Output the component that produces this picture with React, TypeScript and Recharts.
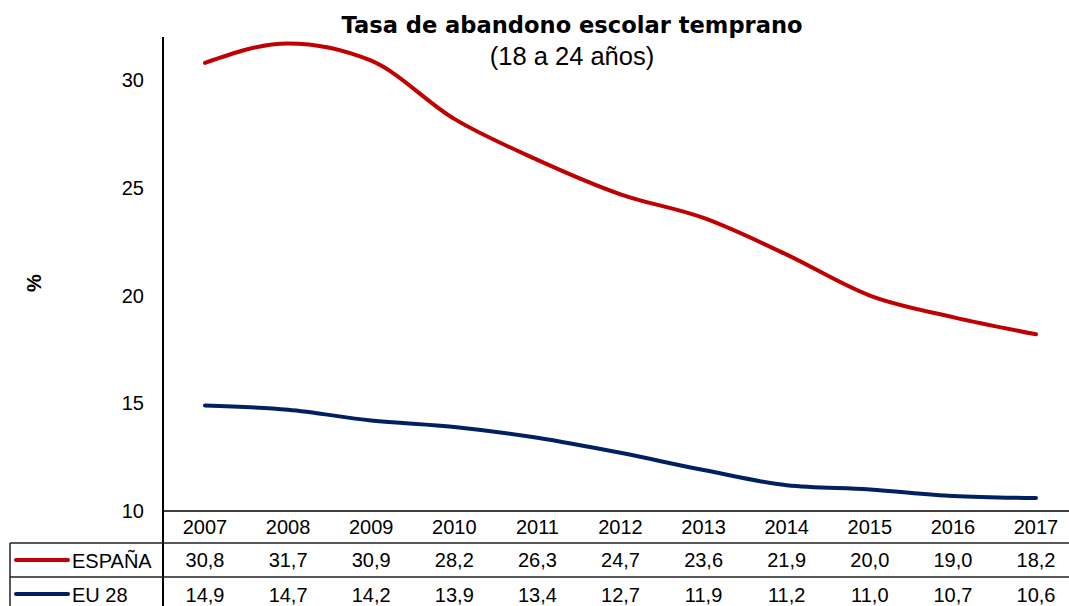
import React from 'react';
import { LineChart, Line, XAxis, YAxis } from 'recharts';

const years = ['2007', '2008', '2009', '2010', '2011', '2012', '2013', '2014', '2015', '2016', '2017'];
const espana = [30.8, 31.7, 30.9, 28.2, 26.3, 24.7, 23.6, 21.9, 20.0, 19.0, 18.2];
const eu28 = [14.9, 14.7, 14.2, 13.9, 13.4, 12.7, 11.9, 11.2, 11.0, 10.7, 10.6];
const yTicks = [10, 15, 20, 25, 30];
const seriesNames = ['ESPAÑA', 'EU 28'];
const title = 'Tasa de abandono escolar temprano';
const subtitle = '(18 a 24 años)';
const yLabel = '%';

const data = years.map((y, i) => ({ year: y, espana: espana[i], eu28: eu28[i] }));

const W = 1069;
const H = 606;
const TOP = 37;
const AXIS_H = 95;
const Y_W = 163;
const RED = '#C00000';
const BLUE = '#002060';
const FONT = '"Liberation Sans", Arial, sans-serif';

const fmt = (v: number) => v.toFixed(1).replace('.', ',');

const TableTick = (props: any) => {
  const { x, payload } = props;
  const i = years.indexOf(String(payload.value));
  return (
    <g fontFamily={FONT} fontSize={20} fill="#000">
      <text x={x} y={534} textAnchor="middle" fill="#000">{payload.value}</text>
      <text x={x} y={567} textAnchor="middle" fill="#000">{fmt(espana[i])}</text>
      <text x={x} y={602} textAnchor="middle" fill="#000">{fmt(eu28[i])}</text>
    </g>
  );
};

export default function App() {
  return (
    <div style={{ position: 'relative', width: W, height: H, background: '#fff' }}>
      <style>{`body{margin:0;overflow:hidden;background:#fff}`}</style>
      <LineChart width={W} height={H} data={data} margin={{ top: TOP, right: 0, bottom: 0, left: 0 }}>
        <XAxis
          dataKey="year"
          height={AXIS_H}
          padding={{ left: 42, right: 33 }}
          tickLine={false}
          axisLine={{ stroke: '#000', strokeWidth: 1.5 }}
          interval={0}
          tick={<TableTick />}
        />
        <YAxis
          width={Y_W}
          domain={[10, 32]}
          ticks={yTicks}
          allowDataOverflow
          tickLine={false}
          tickMargin={13}
          axisLine={{ stroke: '#000', strokeWidth: 2 }}
          tick={{ fill: '#000', fontSize: 20, fontFamily: FONT }}
        />
        <Line
          type="monotone"
          dataKey="espana"
          name={seriesNames[0]}
          stroke={RED}
          strokeWidth={4}
          strokeLinecap="round"
          dot={false}
          activeDot={false}
          isAnimationActive={false}
        />
        <Line
          type="monotone"
          dataKey="eu28"
          name={seriesNames[1]}
          stroke={BLUE}
          strokeWidth={4}
          strokeLinecap="round"
          dot={false}
          activeDot={false}
          isAnimationActive={false}
        />
      </LineChart>
      <svg
        width={W}
        height={H}
        style={{ position: 'absolute', left: 0, top: 0, pointerEvents: 'none' }}
      >
        <text x={572} y={33} textAnchor="middle" fontFamily='"DejaVu Sans", sans-serif' fontWeight="bold" fontSize={22.6} fill="#000">
          {title}
        </text>
        <text x={572} y={65} textAnchor="middle" fontFamily={FONT} fontSize={25.5} fill="#000">
          {subtitle}
        </text>
        <text
          x={0}
          y={0}
          transform="translate(41,283) rotate(-90)"
          textAnchor="middle"
          fontFamily={FONT}
          fontWeight="bold"
          fontSize={20}
          fill="#000"
        >
          {yLabel}
        </text>
        <line x1={163} y1={510} x2={163} y2={H} stroke="#000" strokeWidth={2} />
        <line x1={10} y1={543} x2={W} y2={543} stroke="#222" strokeWidth={1.5} />
        <line x1={10} y1={577} x2={W} y2={577} stroke="#222" strokeWidth={1.5} />
        <line x1={10} y1={543} x2={10} y2={H} stroke="#222" strokeWidth={1.5} />
        <line x1={16} y1={560} x2={68} y2={560} stroke={RED} strokeWidth={4} strokeLinecap="round" />
        <line x1={16} y1={594} x2={68} y2={594} stroke={BLUE} strokeWidth={4} strokeLinecap="round" />
        <text x={72} y={568} fontFamily={FONT} fontSize={20} fill="#000">{seriesNames[0]}</text>
        <text x={72} y={602} fontFamily={FONT} fontSize={20} fill="#000">{seriesNames[1]}</text>
      </svg>
    </div>
  );
}
